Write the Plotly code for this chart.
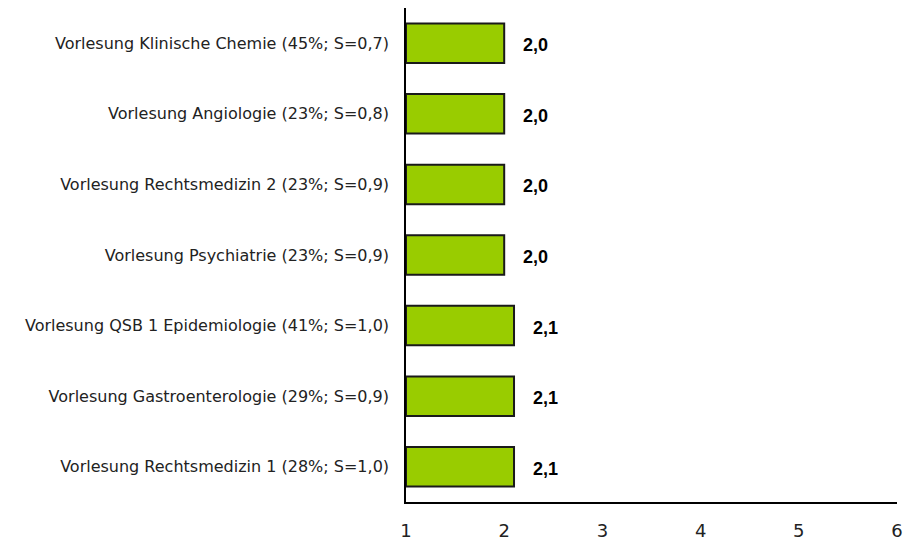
import plotly.graph_objects as go

categories = [
    "Vorlesung Klinische Chemie (45%; S=0,7)",
    "Vorlesung Angiologie (23%; S=0,8)",
    "Vorlesung Rechtsmedizin 2 (23%; S=0,9)",
    "Vorlesung Psychiatrie (23%; S=0,9)",
    "Vorlesung QSB 1 Epidemiologie (41%; S=1,0)",
    "Vorlesung Gastroenterologie (29%; S=0,9)",
    "Vorlesung Rechtsmedizin 1 (28%; S=1,0)",
]
values = [2.0, 2.0, 2.0, 2.0, 2.1, 2.1, 2.1]
x_ticks = [1, 2, 3, 4, 5, 6]

base = 1
labels = [f"{v:.1f}".replace(".", ",") for v in values]

fig = go.Figure()
fig.add_trace(go.Bar(
    y=categories,
    x=[v - base for v in values],
    base=base,
    orientation="h",
    width=0.56,
    marker=dict(color="#99cc00", line=dict(color="#1a1a1a", width=2)),
    hoverinfo="skip",
))

for c, v, t in zip(categories, values, labels):
    fig.add_annotation(x=v, y=c, text=f"<b>{t}</b>", showarrow=False,
                       xanchor="left", xshift=17, yshift=-2,
                       font=dict(family="Liberation Sans, Arial", size=18, color="#000"))

fig.update_layout(
    width=907, height=535,
    margin=dict(l=398, r=18, t=0, b=41),
    plot_bgcolor="white", paper_bgcolor="white",
    showlegend=False,
    bargap=0.44,
)
fig.update_xaxes(
    range=[1, 6], tickvals=x_ticks, ticktext=[str(t) for t in x_ticks],
    showgrid=False, zeroline=False, showline=True, linecolor="#000", linewidth=1.5,
    ticks="", ticklabelstandoff=12, automargin=False,
    tickfont=dict(family="DejaVu Sans", size=18, color="#222"),
)
fig.update_yaxes(
    categoryorder="array", categoryarray=categories[::-1],
    showgrid=False, zeroline=False, showline=True, linecolor="#000", linewidth=1.5,
    ticks="", ticklabelstandoff=12, automargin=False,
    tickfont=dict(family="DejaVu Sans", size=16, color="#222"),
)

fig.write_html("out.html")
